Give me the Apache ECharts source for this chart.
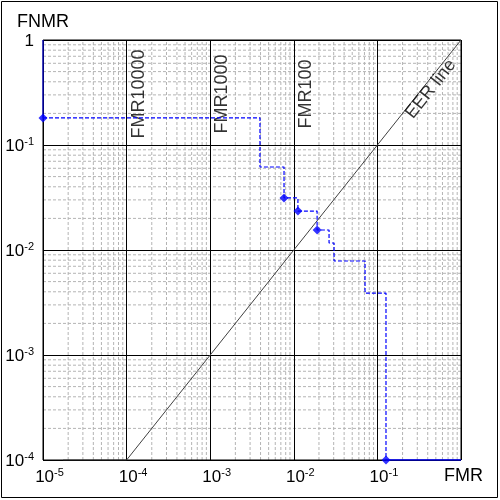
<!DOCTYPE html>
<html><head><meta charset="utf-8">
<script src="https://cdn.jsdelivr.net/npm/echarts@6/dist/echarts.min.js"></script>
<style>html,body{margin:0;padding:0;background:#fff}#c{width:500px;height:500px}</style>
</head><body><div id="c"></div>
<script>
// DET curve (step line)
const detFMR  = [1e-5, 3.94e-3, 7.64e-3, 1.12e-2, 1.90e-2, 2.64e-2, 3.03e-2, 7.11e-2, 1.267e-1];
const detFNMR = [0.181, 0.0617, 0.0313, 0.0235, 0.0155, 0.01166, 0.00786, 0.00389, 1e-4];
const detMarked = [true, false, true, true, true, false, false, false, true];
// solid end pieces of the curve
const headFMR = [1e-5, 1e-5];
const headFNMR = [1, 0.181];
const tailFMR = [1.267e-1, 1];
const tailFNMR = [1e-4, 1e-4];
// EER line
const eerFMR  = [1.74e-5, 1e-4, 1];
const eerFNMR = [1e-4, 1e-4, 1];
const eerLabelAt = [0.375, 0.375];
// FMR reference labels
const fmrRefValues = [1e-4, 1e-3, 1e-2];
const fmrRefNames = ['FMR10000', 'FMR1000', 'FMR100'];
const fmrRefLabelFNMR = 0.306;
// axis ranges
const xMin = 1e-5, xMax = 1, yMin = 1e-4, yMax = 1;

const FONT = "'Liberation Sans', Arial, sans-serif";
const pairs = (xs, ys) => xs.map((x, i) => [x, ys[i]]);

// minor grid values (2..9 within each decade)
function minorValues(lo, hi) {
  const out = [];
  for (let e = Math.round(Math.log10(lo)); e < Math.round(Math.log10(hi)); e++) {
    for (let m = 2; m <= 9; m++) out.push(m * Math.pow(10, e));
  }
  return out;
}
const minorStyle = {color: '#b4b4b4', type: [3, 2], width: 1};
const minorSeries = minorValues(xMin, xMax).map(v => ({
  type: 'line', data: [[v, yMin], [v, yMax]], symbol: 'none', silent: true, z: -1,
  lineStyle: minorStyle
})).concat(minorValues(yMin, yMax).map(v => ({
  type: 'line', data: [[xMin, v], [xMax, v]], symbol: 'none', silent: true, z: -1,
  lineStyle: minorStyle
})));

const rich = {
  b: {fontSize: 17, fontFamily: FONT, color: '#000', lineHeight: 20, verticalAlign: 'bottom'},
  s: {fontSize: 11, fontFamily: FONT, color: '#000', lineHeight: 20, verticalAlign: 'top', padding: [1, 0, 0, 0]},
  n: {fontSize: 18, fontFamily: FONT, color: '#000', lineHeight: 20, padding: [0, 8, 0, 0]}
};
function fmt(axis) {
  return function (v) {
    const e = Math.round(Math.log10(v));
    if (e === 0) return axis === 'x' ? '{n|FMR}' : '{b|1}';
    return '{b|10}{s|' + e + '}';
  };
}

const chart = echarts.init(document.getElementById('c'), null, {renderer: 'canvas'});
chart.setOption({
  animation: false,
  backgroundColor: '#fff',
  graphic: [{
    type: 'rect', shape: {x: 1.5, y: 1.5, width: 496, height: 496},
    style: {fill: 'none', stroke: '#000', lineWidth: 1}, silent: true
  }],
  grid: {left: 43, top: 40, width: 418, height: 420, show: true, borderColor: '#000', borderWidth: 1, backgroundColor: 'transparent'},
  xAxis: {
    type: 'log', logBase: 10, min: xMin, max: xMax, splitNumber: 5,
    axisLine: {show: false}, axisTick: {show: false},
    splitLine: {show: true, lineStyle: {color: '#000', width: 1}},
    axisLabel: {formatter: fmt('x'), rich: rich, margin: 6, padding: [0, 0, 0, 13], showMinLabel: true, showMaxLabel: true}
  },
  yAxis: {
    type: 'log', logBase: 10, min: yMin, max: yMax, splitNumber: 4,
    name: 'FNMR', nameLocation: 'end', nameGap: 9,
    nameTextStyle: {fontSize: 18, fontFamily: FONT, color: '#000', align: 'center'},
    axisLine: {show: false}, axisTick: {show: false},
    splitLine: {show: true, lineStyle: {color: '#000', width: 1}},
    axisLabel: {formatter: fmt('y'), rich: rich, margin: 9, showMinLabel: true, showMaxLabel: true}
  },
  series: minorSeries.concat([
    { // EER line
      type: 'line', data: pairs(eerFMR, eerFNMR), showSymbol: false, symbol: 'none',
      lineStyle: {color: '#404040', width: 1}, z: 3, silent: true
    },
    { // EER label
      type: 'scatter', data: [eerLabelAt], symbolSize: 0, z: 4, silent: true,
      label: {show: true, formatter: 'EER line', position: [5.5, 4.3], align: 'center', verticalAlign: 'middle',
        rotate: 51.5, fontSize: 18, fontFamily: FONT, color: '#000'}
    },
    { // FMR reference labels
      type: 'scatter', data: fmrRefValues.map((v, i) => ({value: [v, fmrRefLabelFNMR], name: fmrRefNames[i]})),
      symbolSize: 0, z: 4, silent: true,
      label: {show: true, formatter: p => p.name, position: [12, 0], align: 'center', verticalAlign: 'middle',
        rotate: 90, fontSize: 18, fontFamily: FONT, color: '#000'}
    },
    { // DET dashed steps
      type: 'line', data: pairs(detFMR, detFNMR), step: 'end', showSymbol: false, symbol: 'none',
      lineStyle: {color: '#0000ff', width: 1.2, type: [4, 2]}, z: 5, silent: true
    },
    { type: 'line', data: pairs(headFMR, headFNMR), symbol: 'none', lineStyle: {color: '#0000ff', width: 1}, z: 5, silent: true },
    { type: 'line', data: pairs(tailFMR, tailFNMR), symbol: 'none', lineStyle: {color: '#0000ff', width: 1.5}, z: 5, silent: true },
    { // markers
      type: 'scatter', data: pairs(detFMR, detFNMR).filter((p, i) => detMarked[i]),
      symbol: 'diamond', symbolSize: 9, itemStyle: {color: '#0000ff'}, z: 6, silent: true
    }
  ])
});
</script></body></html>
